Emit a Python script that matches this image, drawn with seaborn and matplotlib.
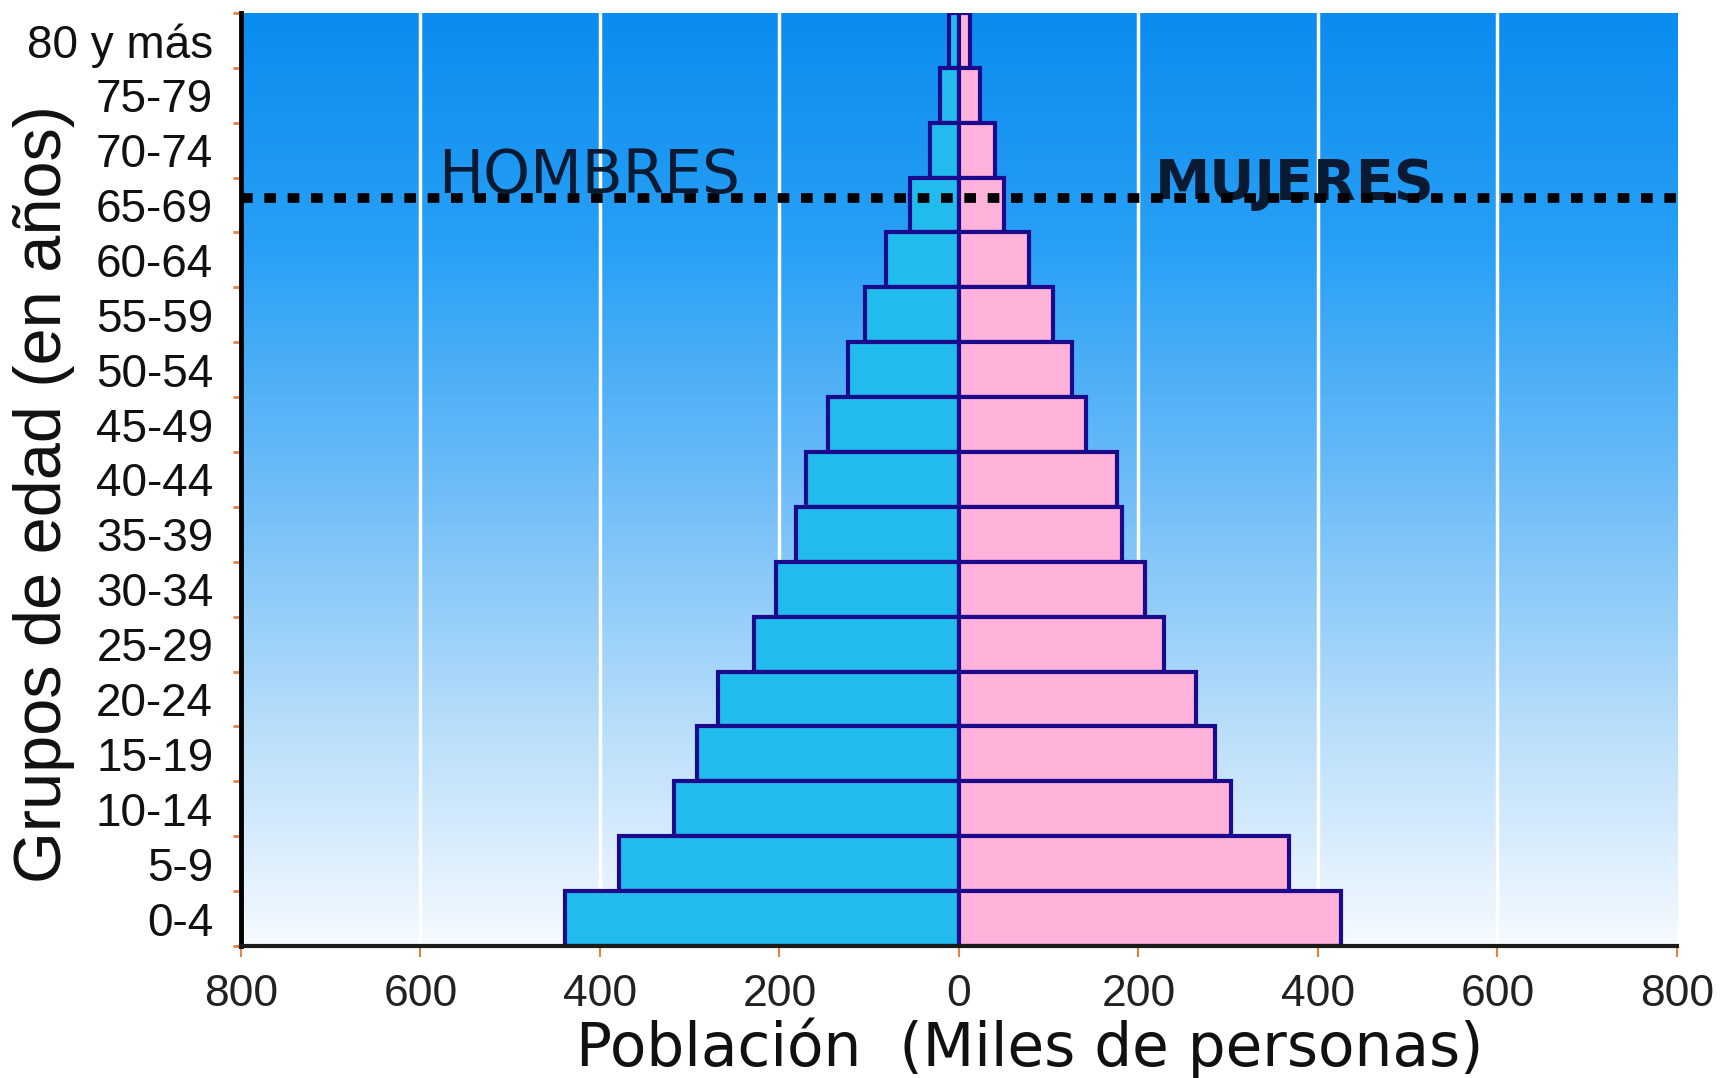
import numpy as np
import pandas as pd
import matplotlib
matplotlib.use("Agg")
import matplotlib.pyplot as plt
import seaborn as sns
from matplotlib.colors import LinearSegmentedColormap
from matplotlib.ticker import FixedLocator

# Age groups, from oldest (top) to youngest (bottom)
age_groups = ["80 y más", "75-79", "70-74", "65-69", "60-64", "55-59", "50-54",
              "45-49", "40-44", "35-39", "30-34", "25-29", "20-24", "15-19",
              "10-14", "5-9", "0-4"]
# Population in thousands
hombres = [11, 21, 32, 54, 81, 105, 124, 146, 170, 182, 204, 228, 268, 292, 317, 379, 439]
mujeres = [12, 23, 40, 50, 78, 105, 126, 142, 176, 182, 207, 228, 264, 285, 303, 368, 426]

x_ticks = [-800, -600, -400, -200, 0, 200, 400, 600, 800]
x_tick_labels = ["800", "600", "400", "200", "0", "200", "400", "600", "800"]

sns.set_theme(style="white")
plt.rcParams["font.family"] = ["Liberation Sans", "DejaVu Sans"]
narrow = ["DejaVu Sans Condensed", "Liberation Sans Narrow", "Liberation Sans"]

df_h = pd.DataFrame({"grupo": age_groups, "poblacion": [-v for v in hombres]})
df_m = pd.DataFrame({"grupo": age_groups, "poblacion": mujeres})

fig = plt.figure(figsize=(17.21, 10.78), dpi=100)
ax = fig.add_axes([0.140, 0.1224, 0.8344, 0.8656])

# Sky-blue vertical gradient behind the bars
cielo = LinearSegmentedColormap.from_list(
    "cielo",
    [(0.0, "#0a8cf0"), (0.25, "#28a0f5"), (0.5, "#6cbcf8"),
     (0.75, "#b4dcfa"), (1.0, "#f6faff")])
grad = np.linspace(0, 1, 256).reshape(-1, 1)
ax.imshow(grad, cmap=cielo, extent=[-800, 800, 16.5, -0.5],
          aspect="auto", origin="upper", zorder=0)

for v in [-600, -400, -200, 200, 400, 600]:
    ax.axvline(v, color="white", lw=2.5, zorder=1)

edge = "#1c0a8c"
sns.barplot(data=df_h, x="poblacion", y="grupo", orient="h", color="#22bbee",
            saturation=1, width=1, edgecolor=edge, linewidth=3, ax=ax, zorder=2)
sns.barplot(data=df_m, x="poblacion", y="grupo", orient="h", color="#ffb3da",
            saturation=1, width=1, edgecolor=edge, linewidth=3, ax=ax, zorder=2)

ax.set_xlim(-800, 800)
ax.set_ylim(16.5, -0.5)

# Dotted reference line across the 65-69 group
ax.axhline(2.87, color="black", lw=7, linestyle=(0, (1.2, 1.2)),
           dash_capstyle="butt", zorder=4)

ax.text(-412, 2.48, "HOMBRES", ha="center", va="center", fontsize=43,
        family="DejaVu Sans", color="#0a1a33", zorder=5)
ax.text(374, 2.62, "MUJERES", ha="center", va="center", fontsize=40,
        family="DejaVu Sans", fontweight="bold", color="#0a1a33", zorder=3)

# Axes styling
for s in ["top", "right"]:
    ax.spines[s].set_visible(False)
ax.spines["left"].set_color("black")
ax.spines["left"].set_linewidth(3.5)
ax.spines["bottom"].set_color("#1a1a1a")
ax.spines["bottom"].set_linewidth(3)
ax.spines["left"].set_zorder(6)
ax.spines["bottom"].set_zorder(6)

ax.set_xticks(x_ticks)
ax.set_xticklabels(x_tick_labels, family=narrow, stretch="condensed",
                   fontsize=32, color="#222222")
ax.set_yticks(range(len(age_groups)))
ax.set_yticklabels(age_groups, family=narrow, stretch="condensed",
                   fontsize=33, color="#111111")
ax.yaxis.set_minor_locator(FixedLocator(np.arange(-0.5, 17, 1)))

ax.tick_params(axis="x", which="major", bottom=True, length=8, width=1.5,
               color="#e8823a", pad=12, direction="out")
ax.tick_params(axis="y", which="major", left=False, length=0, pad=20)
ax.tick_params(axis="y", which="minor", left=True, length=6, width=2,
               color="#e8823a", direction="out")

ax.set_xlabel("Población  (Miles de personas)", fontsize=43,
              family="DejaVu Sans", color="#111111")
ax.xaxis.set_label_coords(0.549, -0.077)
ax.set_ylabel("Grupos de edad (en años)", fontsize=48, color="#111111")
ax.yaxis.set_label_coords(-0.1156, 0.4845)

fig.savefig("out.png", dpi=100, facecolor="white")
